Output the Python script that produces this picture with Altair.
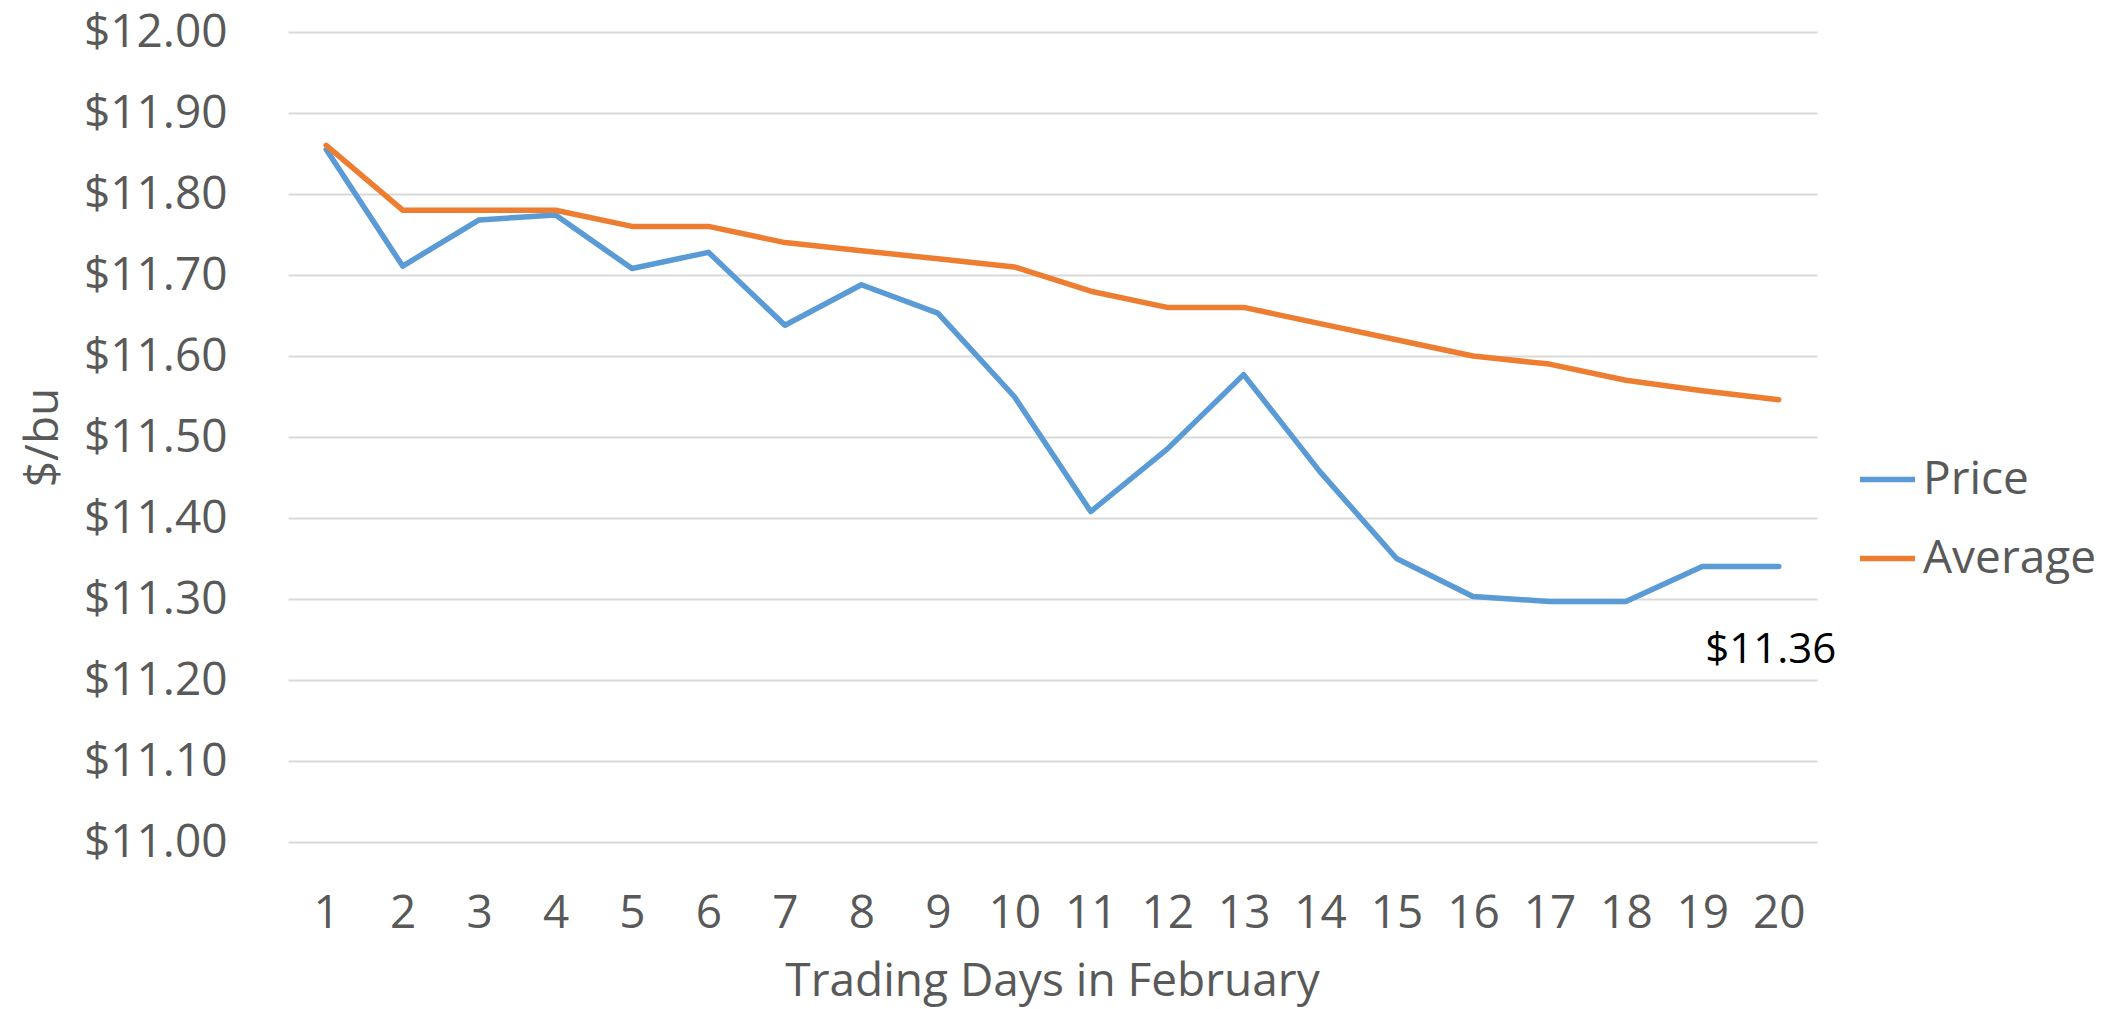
import altair as alt
import pandas as pd

# Trading days and daily values ($/bu)
days = list(range(1, 21))
price = [11.855, 11.711, 11.768, 11.774, 11.708, 11.728, 11.638, 11.688, 11.653, 11.55,
         11.408, 11.485, 11.577, 11.457, 11.35, 11.303, 11.297, 11.297, 11.34, 11.34]
average = [11.86, 11.78, 11.78, 11.78, 11.76, 11.76, 11.74, 11.73, 11.72, 11.71,
           11.68, 11.66, 11.66, 11.64, 11.62, 11.60, 11.59, 11.57, 11.557, 11.546]
series_names = ["Price", "Average"]
series_colors = ["#5B9BD5", "#ED7D31"]
y_ticks = [11.0, 11.1, 11.2, 11.3, 11.4, 11.5, 11.6, 11.7, 11.8, 11.9, 12.0]
callout_text = ["$11.36"]

FONT = "Open Sans"
GREY = "#595959"

rows = []
for name, vals in zip(series_names, [price, average]):
    for d, v in zip(days, vals):
        rows.append({"day": d, "series": name, "value": v})
df = pd.DataFrame(rows)

callout_df = pd.DataFrame({"day": [days[-1]], "value": [price[-1]], "text": callout_text})

x_enc = alt.X(
    "day:O",
    scale=alt.Scale(type="point", padding=0.5),
    axis=alt.Axis(
        title="Trading Days in February",
        labelAngle=0,
        labelFontSize=46,
        labelColor=GREY,
        labelFont=FONT,
        labelBaseline="alphabetic",
        labelPadding=85,
        ticks=False,
        tickSize=0,
        domain=False,
        grid=False,
        titleFont=FONT,
        titleFontSize=46,
        titleFontWeight="normal",
        titleColor=GREY,
        titleBaseline="alphabetic",
        titleX=764,
        titleY=153,
    ),
)

y_scale = alt.Scale(domain=[11.0, 12.0], nice=False, zero=False)

lines = alt.Chart(df).mark_line(strokeWidth=5.5, strokeCap="round", strokeJoin="round").encode(
    x=x_enc,
    y=alt.Y(
        "value:Q",
        scale=y_scale,
        axis=alt.Axis(
            title="$/bu",
            values=y_ticks,
            format="$.2f",
            labelFontSize=46,
            labelColor=GREY,
            labelFont=FONT,
            labelPadding=61,
            ticks=False,
            tickSize=0,
            domain=False,
            grid=True,
            gridColor="#D9D9D9",
            gridWidth=2,
            titleFont=FONT,
            titleFontSize=46,
            titleFontWeight="normal",
            titleColor=GREY,
            titleAngle=270,
            titleBaseline="alphabetic",
            titleAlign="center",
            titleX=-231,
            titleY=405,
        ),
    ),
    color=alt.Color(
        "series:N",
        scale=alt.Scale(domain=series_names, range=series_colors),
        sort=series_names,
        legend=alt.Legend(
            title=None,
            orient="none",
            legendX=1569,
            legendY=417,
            symbolType="stroke",
            symbolSize=3025,
            symbolStrokeWidth=5.5,
            labelFontSize=46,
            labelFont=FONT,
            labelColor=GREY,
            labelOffset=5,
            labelLimit=0,
            rowPadding=25,
            padding=0,
        ),
    ),
)

callout = alt.Chart(callout_df).mark_text(
    font=FONT, fontSize=42, color="#000000", align="center", baseline="alphabetic", dx=-8, dy=96
).encode(
    x=alt.X("day:O"),
    y=alt.Y("value:Q", scale=y_scale),
    text="text:N",
)

chart = (
    alt.layer(lines, callout)
    .properties(
        width=1529,
        height=810,
        autosize=alt.AutoSizeParams(type="none"),
        padding={"left": 288, "top": 32, "right": 293, "bottom": 167},
        background="white",
    )
    .configure_view(stroke=None)
)

chart.save("out.html", embed_options={"renderer": "svg", "actions": False})
